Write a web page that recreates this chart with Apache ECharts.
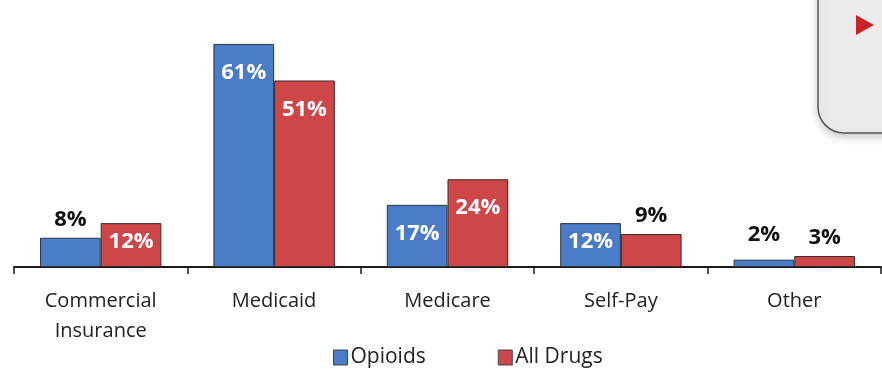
<!DOCTYPE html>
<html>
<head>
<meta charset="utf-8">
<script src="https://cdn.jsdelivr.net/npm/echarts@6/dist/echarts.min.js"></script>
<style>
  html, body { margin: 0; padding: 0; background: #fff; }
  #chart { width: 882px; height: 371px; }
</style>
</head>
<body>
<div id="chart"></div>
<script>
// Payer categories and share of discharges (%)
const categories = ['Commercial\nInsurance', 'Medicaid', 'Medicare', 'Self-Pay', 'Other'];
const opioids = [8, 61, 17, 12, 2];
const allDrugs = [12, 51, 24, 9, 3];
const seriesNames = ['Opioids', 'All Drugs'];

const FONT = '"Open Sans", "Liberation Sans", sans-serif';
const BLUE = '#4a7cc8';
const RED = '#cf4648';

// Small bars get their label above the bar; taller ones carry it inside near the top.
function buildData(values) {
  return values.map(v => {
    if (v < 10) {
      return { value: v, label: { position: 'top', distance: v < 3 ? 14 : 7, color: '#111' } };
    }
    return { value: v, label: { position: 'insideTop', distance: v < 15 ? 8 : 18, color: '#fff' } };
  });
}

const chart = echarts.init(document.getElementById('chart'));
chart.setOption({
  animation: false,
  backgroundColor: '#ffffff',
  textStyle: { fontFamily: FONT },
  grid: { left: 14, right: 1, top: 11, bottom: 104, containLabel: false },
  legend: {
    data: seriesNames,
    left: 328,
    top: 342,
    itemWidth: 14,
    itemHeight: 15,
    itemGap: 72,
    itemStyle: { borderColor: '#444', borderWidth: 1 },
    textStyle: { fontFamily: FONT, fontSize: 21, color: '#222', padding: [0, 0, 0, -2] },
    icon: 'rect'
  },
  xAxis: {
    type: 'category',
    data: categories,
    axisLine: { lineStyle: { color: '#1a1a1a', width: 2 } },
    axisTick: { show: true, length: 7, lineStyle: { color: '#1a1a1a', width: 1.5 } },
    axisLabel: { fontFamily: FONT, fontSize: 20, color: '#222', margin: 19, lineHeight: 30, interval: 0 }
  },
  yAxis: {
    type: 'value',
    min: 0,
    max: 70,
    show: false,
    splitLine: { show: false }
  },
  series: [
    {
      name: seriesNames[0],
      type: 'bar',
      data: buildData(opioids),
      barWidth: '35%',
      barGap: '0%',
      itemStyle: { color: BLUE, borderColor: '#2b3440', borderWidth: 1 },
      label: { show: true, formatter: '{c}%', fontFamily: FONT, fontSize: 22, fontWeight: 'bold' }
    },
    {
      name: seriesNames[1],
      type: 'bar',
      data: buildData(allDrugs),
      barWidth: '35%',
      itemStyle: { color: RED, borderColor: '#3a2a2a', borderWidth: 1 },
      label: { show: true, formatter: '{c}%', fontFamily: FONT, fontSize: 22, fontWeight: 'bold' }
    }
  ],
  graphic: [
    {
      type: 'rect',
      shape: { x: 818, y: -40, width: 120, height: 173, r: 26 },
      style: {
        fill: '#ecebe9',
        stroke: '#555',
        lineWidth: 1.5,
        shadowBlur: 8,
        shadowOffsetY: 4,
        shadowColor: 'rgba(0,0,0,0.18)'
      }
    },
    {
      type: 'polygon',
      shape: { points: [[856, 15], [874, 25], [856, 35]] },
      style: { fill: '#c8232b' }
    }
  ]
});
</script>
</body>
</html>
